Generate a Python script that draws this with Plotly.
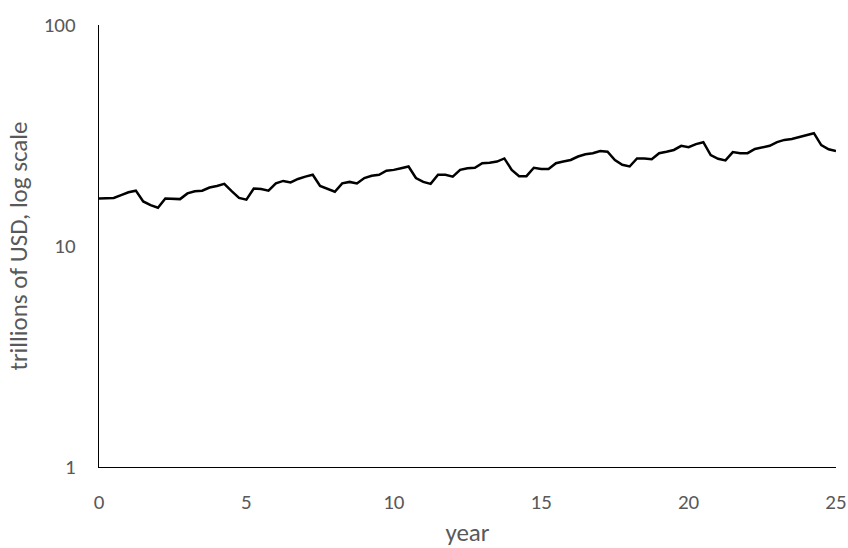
import plotly.graph_objects as go

# Quarterly observations over 25 years (t = 0, 0.25, ..., 25)
years = [q / 4 for q in range(101)]

# Value in trillions of USD at each quarter
values = [
    16.4, 16.4, 16.5, 17.0, 17.5, 17.8, 15.9, 15.3, 14.9, 16.4,
    16.4, 16.3, 17.3, 17.7, 17.8, 18.4, 18.7, 19.1, 17.7, 16.5,
    16.2, 18.2, 18.1, 17.8, 19.2, 19.7, 19.4, 20.1, 20.6, 21.0,
    18.7, 18.1, 17.6, 19.2, 19.5, 19.2, 20.3, 20.8, 21.0, 21.9,
    22.1, 22.5, 22.9, 20.3, 19.5, 19.1, 21.0, 21.0, 20.6, 22.1,
    22.5, 22.6, 23.7, 23.8, 24.1, 24.9, 22.1, 20.7, 20.7, 22.6,
    22.3, 22.3, 23.7, 24.1, 24.5, 25.4, 26.0, 26.3, 26.9, 26.7,
    24.5, 23.3, 22.9, 24.9, 24.9, 24.7, 26.3, 26.7, 27.2, 28.4,
    28.0, 28.9, 29.5, 25.8, 24.8, 24.4, 26.6, 26.3, 26.3, 27.5,
    28.0, 28.4, 29.5, 30.2, 30.5, 31.2, 31.8, 32.4, 28.6, 27.4,
    26.9,
]

x_ticks = [0, 5, 10, 15, 20, 25]
y_ticks = [1, 10, 100]
y_tick_labels = ["1", "10", "100"]

FONT = "Carlito, Calibri, Lato, sans-serif"
TEXT_GREY = "#595959"
TICK_SIZE = 21
TITLE_SIZE = 25

fig = go.Figure(
    go.Scatter(
        x=years,
        y=values,
        mode="lines",
        line=dict(color="black", width=2.5),
        showlegend=False,
        hoverinfo="x+y",
    )
)

fig.update_layout(
    width=848,
    height=548,
    margin=dict(l=99, r=12, t=25, b=81, autoexpand=False),
    paper_bgcolor="white",
    plot_bgcolor="white",
    font=dict(family=FONT, size=TICK_SIZE, color=TEXT_GREY),
)

fig.update_xaxes(
    range=[0, 25],
    tickvals=x_ticks,
    showgrid=False,
    zeroline=False,
    showline=True,
    linecolor="black",
    linewidth=1.3,
    ticks="",
    automargin=False,
    ticklabelstandoff=16,
    tickfont=dict(family=FONT, size=TICK_SIZE, color=TEXT_GREY),
    title=dict(text="year", font=dict(family=FONT, size=TITLE_SIZE, color=TEXT_GREY), standoff=16),
)

fig.update_yaxes(
    type="log",
    range=[0, 2],
    tickvals=y_ticks,
    ticktext=y_tick_labels,
    showgrid=False,
    zeroline=False,
    showline=True,
    linecolor="black",
    linewidth=1.3,
    ticks="",
    automargin=False,
    ticklabelstandoff=18,
    tickfont=dict(family=FONT, size=TICK_SIZE, color=TEXT_GREY),
    title=dict(
        text="trillions of USD, log scale",
        font=dict(family=FONT, size=TITLE_SIZE, color=TEXT_GREY),
        standoff=8,
    ),
)

fig.write_html("out.html")
